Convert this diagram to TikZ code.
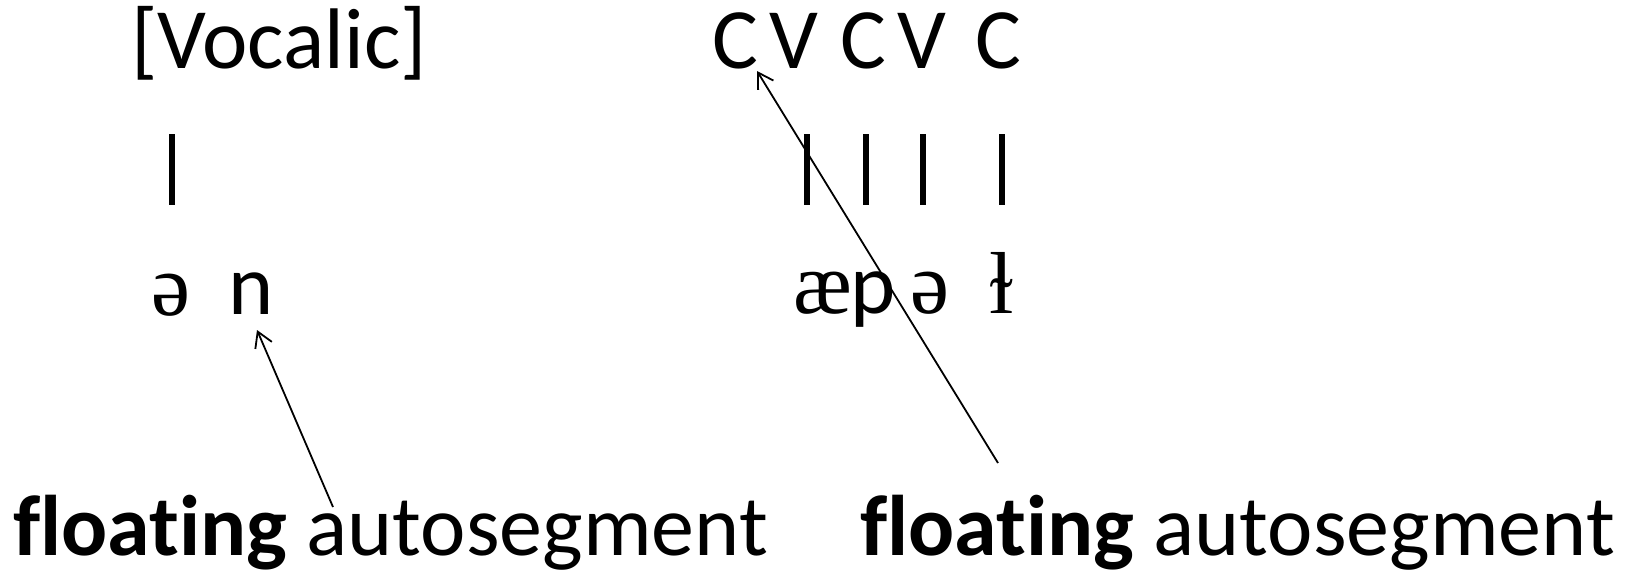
\documentclass[tikz,border=0pt]{standalone}
\usepackage{fontspec}
\setmainfont{Carlito}[Ligatures={NoCommon,NoRare,NoContextual}]
\newfontfamily\ipafont{Liberation Serif}
\usetikzlibrary{arrows.meta}

\begin{document}
\begin{tikzpicture}[x=1pt,y=-1pt,
  lbl/.style={inner sep=0pt,outer sep=0pt,anchor=base,font=\fontsize{86pt}{100pt}\selectfont},
  ipa/.style={lbl,font=\fontsize{88pt}{100pt}\selectfont\ipafont},
  caption/.style={lbl,anchor=base west},
  assoc/.style={line width=6.5pt},
  ptr/.style={line width=1.8pt,-{Straight Barb[length=15pt,width=18pt]}}]
\useasboundingbox (0,0) rectangle (1626,573);

% left: a floating [Vocalic] feature over "ən"
\node[lbl] (voc) at (279,68) {[Vocalic]};
\coordinate (vbarT) at (172,134);
\coordinate (vbarB) at (172,205);
\draw[assoc] (vbarT) -- (vbarB);
\node[ipa] (schwaL) at (171,315) {ə};
\node[lbl] (nL) at (251,314) {n};

% right: skeleton C V C V C over the melody
\node[lbl] (c1) at (735,68) {C};
\node[lbl] (v1) at (794,68) {V};
\node[lbl] (c2) at (863,68) {C};
\node[lbl] (v2) at (922,68) {V};
\node[lbl] (c3) at (998,68) {C};
\foreach \x/\n in {807/a,866/b,923/c,1002/d}{
  \coordinate (bar\n T) at (\x,134);
  \coordinate (bar\n B) at (\x,205);
  \draw[assoc] (bar\n T) -- (bar\n B);
}
\node[ipa] (ae) at (823,313) {æ};
\node[lbl] (p) at (873,313) {p};
\node[ipa] (schwaR) at (930,313) {ə};
\node[ipa] (ll) at (1002,313) {ɫ};

% captions
\node[caption] (capL) at (13,555) {\textbf{floating} autosegment};
\node[caption] (capR) at (860,555) {\textbf{floating} autosegment};

% pointers
\coordinate (tailL) at (333,507);
\coordinate (headL) at (257,330);
\draw[ptr] (tailL) -- (headL);
\coordinate (tailR) at (998,463);
\coordinate (headR) at (757,71);
\draw[ptr] (tailR) -- (headR);
\end{tikzpicture}
\end{document}
